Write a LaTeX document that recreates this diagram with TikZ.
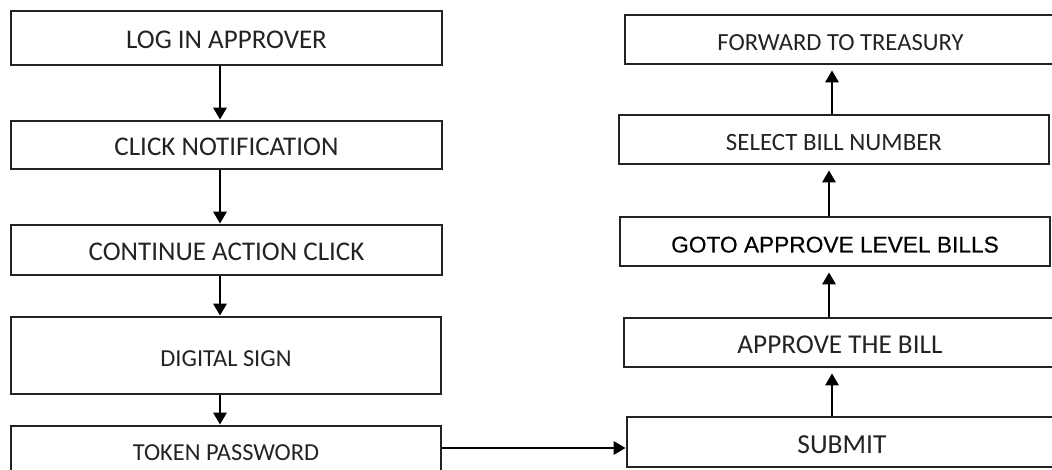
\documentclass[tikz,border=0pt]{standalone}
\usepackage{fontspec}
\newfontfamily\boxfont{Carlito}
\newfontfamily\arialfont[FakeBold=0.4]{Liberation Sans}
\usetikzlibrary{arrows.meta}
\definecolor{edge}{RGB}{35,35,35}
\definecolor{ink}{RGB}{35,35,35}
\tikzset{
  stepbox/.style={draw=edge, line width=2.7pt, rectangle, inner sep=0pt,
    text=ink, text height=22pt, text depth=0pt, font=\boxfont},
  flow/.style={line width=2.8pt, draw=black, -{Triangle[width=13pt,length=12pt]}},
  upflow/.style={flow, shorten >=5pt}
}
\newcommand{\fs}[1]{\fontsize{#1}{#1}\selectfont}
\begin{document}
\begin{tikzpicture}[x=1pt,y=-1pt]
\useasboundingbox (0,0) rectangle (1052,470);
\clip (0,0) rectangle (1052,470);

% left column: approver steps
\node[stepbox, minimum width=431, minimum height=54] (b1) at (226.5,38) {\fs{27}LOG IN APPROVER};
\node[stepbox, minimum width=431, minimum height=48] (b2) at (226.5,145) {\fs{27}CLICK NOTIFICATION};
\node[stepbox, minimum width=431, minimum height=50] (b3) at (226.5,250) {\fs{27}CONTINUE ACTION CLICK};
\node[stepbox, minimum width=430, minimum height=77] (b4) at (226,355.5) {\fs{24.4}DIGITAL SIGN};
\node[stepbox, minimum width=430, minimum height=46] (b5) at (226,449) {\fs{24.4}TOKEN PASSWORD};

% right column: bill processing
\node[stepbox, minimum width=431, minimum height=49] (r1) at (840.5,39.5) {\fs{24.6}FORWARD TO TREASURY};
\node[stepbox, minimum width=430, minimum height=49] (r2) at (834,139.5) {\fs{24.9}SELECT BILL NUMBER};
\node[stepbox, minimum width=430, minimum height=49, font=\arialfont, text=black] (r3) at (835,241.5) {\fs{22.7}GOTO APPROVE LEVEL BILLS};
\node[stepbox, minimum width=432, minimum height=49] (r4) at (840,342.5) {\fs{27.2}APPROVE THE BILL};
\node[stepbox, minimum width=430, minimum height=50] (r5) at (842,442) {\fs{27.5}SUBMIT};

% arrow columns
\coordinate (ax) at (220,0);
\coordinate (ra) at (832,0);
\coordinate (rb) at (829,0);
\coordinate (hy) at (0,448);

\draw[flow] (b1.south -| ax) -- (b2.north -| ax);
\draw[flow] (b2.south -| ax) -- (b3.north -| ax);
\draw[flow] (b3.south -| ax) -- (b4.north -| ax);
\draw[flow] (b4.south -| ax) -- (b5.north -| ax);

\draw[flow] (b5.east |- hy) -- (r5.west |- hy);

\draw[upflow] (r5.north -| ra) -- (r4.south -| ra);
\draw[upflow] (r4.north -| rb) -- (r3.south -| rb);
\draw[upflow] (r3.north -| rb) -- (r2.south -| rb);
\draw[upflow] (r2.north -| ra) -- (r1.south -| ra);
\end{tikzpicture}
\end{document}
